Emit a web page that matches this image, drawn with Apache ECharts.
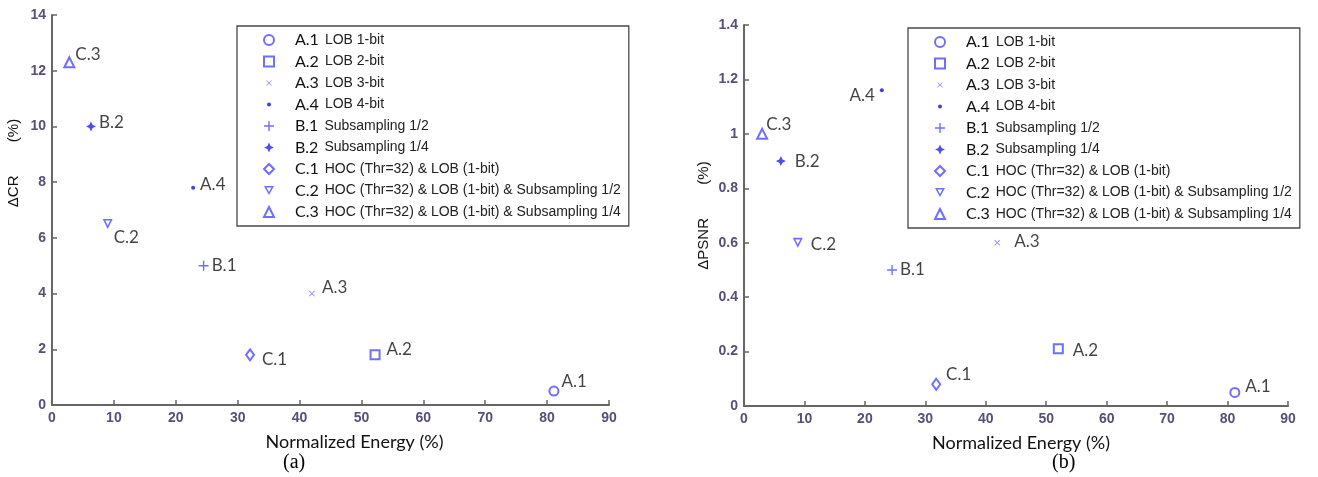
<!DOCTYPE html>
<html>
<head>
<meta charset="utf-8">
<script src="https://cdn.jsdelivr.net/npm/echarts@6/dist/echarts.min.js"></script>
<style>
  html, body { margin: 0; padding: 0; background: #fff; }
  #main { width: 1318px; height: 477px; }
</style>
</head>
<body>
<div id="main"></div>
<script>
// data
var codes = ['A.1', 'A.2', 'A.3', 'A.4', 'B.1', 'B.2', 'C.1', 'C.2', 'C.3'];
var methods = ['LOB 1-bit', 'LOB 2-bit', 'LOB 3-bit', 'LOB 4-bit',
    'Subsampling 1/2', 'Subsampling 1/4',
    'HOC (Thr=32) & LOB (1-bit)',
    'HOC (Thr=32) & LOB (1-bit) & Subsampling 1/2',
    'HOC (Thr=32) & LOB (1-bit) & Subsampling 1/4'];
// panel (a)
var energyA = [81.1, 52.2, 42, 22.8, 24.5, 6.3, 32, 9, 2.8];
var deltaCR = [0.5, 1.8, 4, 7.8, 5, 10, 1.8, 6.5, 12.3];
// panel (b)
var energyB = [81.2, 52, 41.9, 22.8, 24.5, 6.1, 31.8, 8.9, 3];
var deltaPSNR = [0.05, 0.21, 0.6, 1.16, 0.5, 0.9, 0.08, 0.6, 1.0];

var blue = '#4a4aff';
var plus = 'path://M-0.7,-5L0.7,-5L0.7,-0.7L5,-0.7L5,0.7L0.7,0.7L0.7,5L-0.7,5L-0.7,0.7L-5,0.7L-5,-0.7L-0.7,-0.7Z';
var cross = 'M-5,-4L-4,-5L0,-1L4,-5L5,-4L1,0L5,4L4,5L0,1L-4,5L-5,4L-1,0Z';
var star4 = 'path://M0,-5L1.6,-1.6L5,0L1.6,1.6L0,5L-1.6,1.6L-5,0L-1.6,-1.6Z';
var downTri = 'path://M-5,-4L5,-4L0,5ZM-2.5,-2.5L0,1.9L2.5,-2.5Z';
var dot = 'M-2,0A2,2 0 1 1 2,0A2,2 0 1 1 -2,0Z';

var markers = {
    'A.1': { symbol: 'emptyCircle', size: 9, color: blue },
    'A.2': { symbol: 'emptyRect', size: 9, color: blue },
    'A.3': { symbol: 'path://' + cross, size: 6, color: '#7070ff',
             icon: 'path://M-9,-9L-9,-9ZM9,9L9,9Z' + cross },
    'A.4': { symbol: 'circle', size: 4, color: '#1010d0',
             icon: 'path://M-5,-5L-5,-5ZM5,5L5,5Z' + dot },
    'B.1': { symbol: plus, size: 10, color: blue },
    'B.2': { symbol: star4, size: 10, color: '#2020f0' },
    'C.1': { symbol: 'emptyDiamond', size: [8, 11], color: blue },
    'C.2': { symbol: downTri, size: 10, color: blue },
    'C.3': { symbol: 'emptyTriangle', size: 10, color: blue }
};

// label placement per panel
var labelsA = {
    'A.1': ['right', [-3, -10]], 'A.2': ['right', [1, -5]], 'A.3': ['right', [2, -6]],
    'A.4': ['right', [0, -3]], 'B.1': ['right', [-2, 0]], 'B.2': ['right', [-2, -4]],
    'C.1': ['right', [2, 5]], 'C.2': ['right', [-4, 14]], 'C.3': ['right', [-5, -8]]
};
var labelsB = {
    'A.1': ['right', [0, -6]], 'A.2': ['right', [4, 2]], 'A.3': ['right', [9, -1]],
    'A.4': ['left', [0, 5]], 'B.1': ['right', [-2, 0]], 'B.2': ['right', [4, 0]],
    'C.1': ['right', [0, -10]], 'C.2': ['right', [3, 2]], 'C.3': ['right', [-7, -9]]
};

var names = codes.map(function (c, i) { return c + ' ' + methods[i]; });

function makeSeries(idx, xs, ys, labels) {
    return codes.map(function (c, i) {
        var m = markers[c];
        var empty = m.symbol.indexOf('empty') === 0;
        return {
            name: names[i],
            type: 'scatter',
            xAxisIndex: idx,
            yAxisIndex: idx,
            symbol: m.symbol,
            symbolSize: m.size,
            itemStyle: empty ? { color: m.color, borderColor: m.color, borderWidth: 1.6 } : { color: m.color },
            label: {
                show: true,
                formatter: c,
                position: labels[c][0],
                offset: labels[c][1],
                fontFamily: 'Lato',
                fontSize: 17,
                color: '#111'
            },
            emphasis: { disabled: true },
            data: [[xs[i], ys[i]]]
        };
    });
}

function makeLegend(left, top, width) {
    return {
        orient: 'vertical',
        left: left,
        top: top,
        width: width,
        data: codes.map(function (c, i) {
            var it = { name: names[i] };
            if (markers[c].icon) it.icon = markers[c].icon;
            return it;
        }),
        padding: [6, 8, 6, 26],
        itemWidth: 10,
        itemHeight: 10,
        itemGap: 5.5,
        borderColor: '#4a4a4a',
        borderWidth: 1.3,
        selectedMode: false,
        formatter: function (n) {
            var sp = n.indexOf(' ');
            return '{c|' + n.slice(0, sp) + '}{m|' + n.slice(sp + 1) + '}';
        },
        textStyle: {
            lineHeight: 16,
            rich: {
                c: { fontFamily: 'Lato', fontSize: 16, color: '#111', padding: [0, 6, 0, 16] },
                m: { fontFamily: 'Liberation Sans Narrow, Liberation Sans', fontSize: 14, color: '#222' }
            }
        }
    };
}

function axisCommon() {
    return {
        axisLine: { show: true, lineStyle: { color: '#666', width: 2 } },
        axisTick: { show: true, inside: true, length: 5, lineStyle: { color: '#666', width: 1.5 } },
        splitLine: { show: false },
        axisLabel: { fontFamily: 'Liberation Sans', fontWeight: 'bold', fontSize: 14, color: '#584e76', margin: 6 }
    };
}

function xAxis(idx, pad) {
    return Object.assign(axisCommon(), {
        type: 'value', gridIndex: idx, min: 0, max: 90, interval: 10,
        name: 'Normalized Energy (%)', nameLocation: 'middle', nameGap: 28,
        nameTextStyle: { fontFamily: 'Lato', fontSize: 18, color: '#111', padding: pad }
    });
}

function yAxis(idx, max, interval, name, gap, pad) {
    return Object.assign(axisCommon(), {
        type: 'value', gridIndex: idx, min: 0, max: max, interval: interval,
        name: name, nameLocation: 'middle', nameGap: gap,
        nameTextStyle: { fontFamily: 'Liberation Sans', fontSize: 15, color: '#111', padding: pad }
    });
}

var chart = echarts.init(document.getElementById('main'));
chart.setOption({
    backgroundColor: '#fff',
    animation: false,
    grid: [
        { left: 52, right: 709, top: 15, bottom: 72 },
        { left: 744, right: 30, top: 25, bottom: 71 }
    ],
    xAxis: [xAxis(0, [0, 0, 0, 48]), xAxis(1, [0, 0, 0, 10])],
    yAxis: [
        yAxis(0, 14, 2, 'ΔCR        (%)', 31, [0, 0, 0, 94]),
        yAxis(1, 1.4, 0.2, 'ΔPSNR        (%)', 33, [0, 0, 0, 0])
    ],
    legend: [makeLegend(237, 26, 391), makeLegend(908, 28, 405)],
    graphic: [
        { type: 'text', left: 283, top: 453, style: { text: '(a)', font: '20px "Liberation Serif"', fill: '#000' } },
        { type: 'text', left: 1052, top: 453, style: { text: '(b)', font: '20px "Liberation Serif"', fill: '#000' } }
    ],
    series: makeSeries(0, energyA, deltaCR, labelsA).concat(makeSeries(1, energyB, deltaPSNR, labelsB))
});
</script>
</body>
</html>
